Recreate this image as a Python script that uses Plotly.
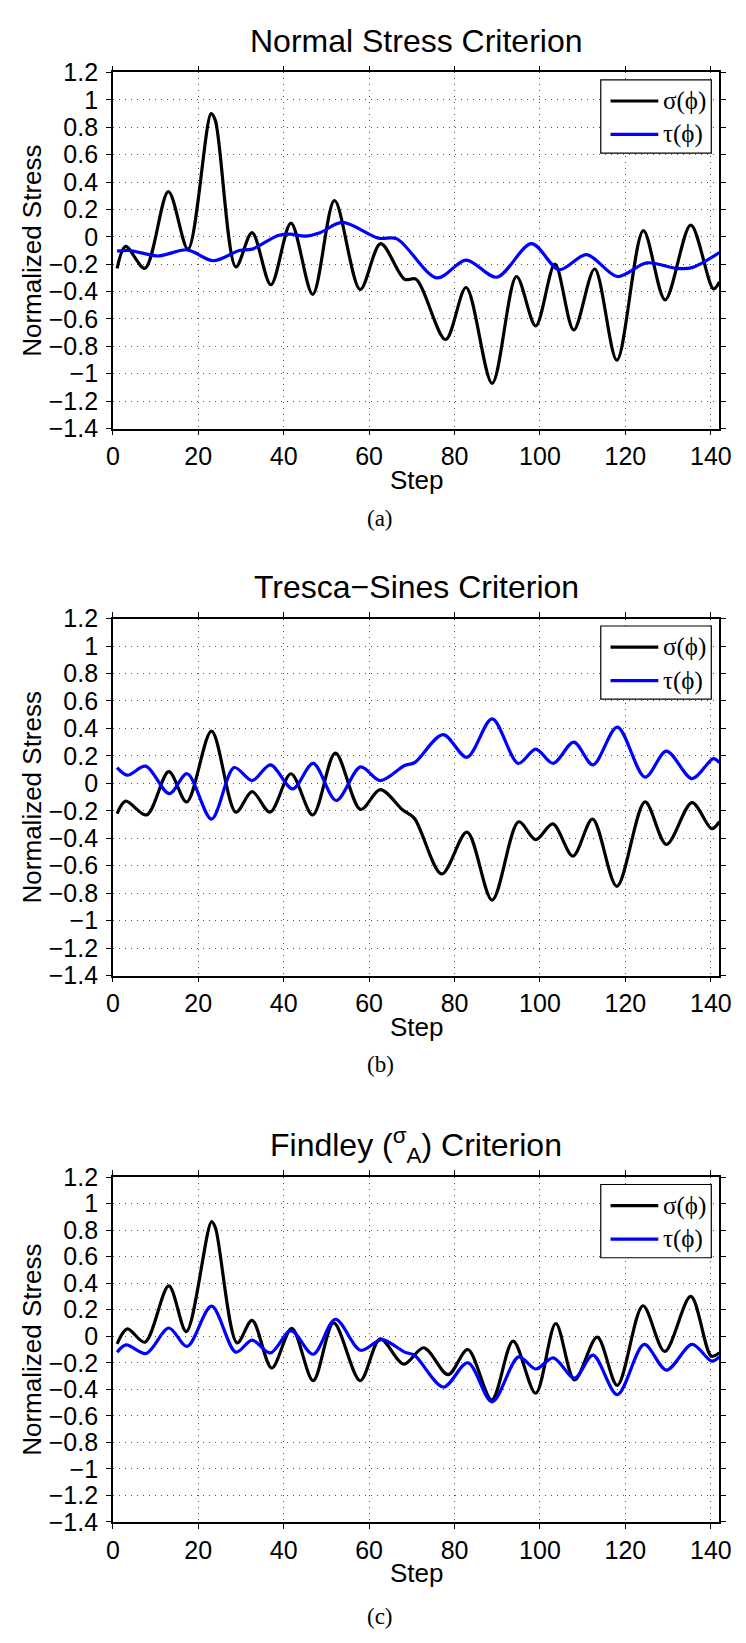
import plotly.graph_objects as go

# ---------------------------------------------------------------- data
# (a) Normal Stress Criterion
steps_a_sigma = [1, 3, 7.5, 13, 17.6, 23, 24, 28.8, 32.6, 37, 41.7, 46.8, 51.9, 57.9, 62.7,
                 68.3, 71, 77.9, 82.7, 88.8, 94.5, 99, 103.5, 107.9, 112.8, 118, 124.2,
                 129.3, 135.3, 140.6, 142]
sigma_a = [-0.23, -0.07, -0.23, 0.33, -0.09, 0.90, 0.85, -0.22, 0.03, -0.35, 0.10, -0.42,
           0.265, -0.385, -0.05, -0.31, -0.31, -0.75, -0.37, -1.07, -0.29, -0.65, -0.20,
           -0.68, -0.235, -0.90, 0.045, -0.46, 0.086, -0.38, -0.33]
steps_a_tau = [1, 4, 10.6, 17.4, 23.5, 29.6, 32.6, 38.7, 41.5, 45, 48.5, 53.7, 62.2, 66.5,
               75.9, 82.7, 89.9, 98, 104.5, 110.9, 118.1, 125, 131.8, 135.6, 142]
tau_a = [-0.105, -0.10, -0.14, -0.095, -0.175, -0.10, -0.09, 0.01, 0.02, 0.005, 0.03, 0.105,
         -0.01, -0.015, -0.30, -0.17, -0.295, -0.05, -0.24, -0.13, -0.29, -0.19, -0.23,
         -0.225, -0.115]

# (b) Tresca-Sines Criterion
steps_b_sigma = [1, 3, 7.9, 13.1, 17.3, 23.1, 28.8, 32.6, 36.8, 41.7, 46.8, 52.1, 58, 62.6,
                 67.9, 70.6, 77, 82.9, 88.8, 95, 99, 103, 107.7, 112.3, 118, 124.6, 129.6,
                 135.6, 140.2, 142]
sigma_b = [-0.22, -0.13, -0.23, 0.085, -0.135, 0.38, -0.21, -0.06, -0.21, 0.07, -0.23, 0.22,
           -0.19, -0.045, -0.195, -0.255, -0.66, -0.355, -0.85, -0.28, -0.41, -0.295, -0.53,
           -0.26, -0.75, -0.135, -0.445, -0.14, -0.33, -0.28]
steps_b_tau = [1, 3.4, 7.7, 13.2, 17.4, 23.1, 28.4, 32.6, 36.9, 42.1, 46.9, 52.3, 58, 62.6,
               68.3, 70.6, 77.3, 82.9, 88.8, 94.9, 99, 103.1, 107.9, 112.4, 118.1, 124.6,
               129.6, 135.6, 140.6, 142]
tau_b = [0.115, 0.06, 0.125, -0.075, 0.07, -0.26, 0.115, 0.02, 0.135, -0.04, 0.145, -0.125,
         0.12, 0.02, 0.13, 0.15, 0.355, 0.19, 0.47, 0.145, 0.25, 0.145, 0.30, 0.135, 0.41,
         0.045, 0.235, 0.035, 0.18, 0.15]

# (c) Findley Criterion
steps_c_sigma = [1, 3.4, 7.5, 13.1, 17.2, 23.1, 24, 29.1, 32.6, 37.2, 41.9, 46.9, 51.7, 57.9,
                 62.6, 68.1, 72.8, 78.5, 83.1, 88.7, 93.7, 99, 103.7, 108.1, 113.4, 118.1,
                 124.1, 129.2, 135.3, 140.1, 142]
sigma_c = [-0.057, 0.055, -0.045, 0.38, 0.035, 0.865, 0.82, -0.05, 0.12, -0.24, 0.06, -0.335,
           0.10, -0.335, -0.02, -0.21, -0.087, -0.29, -0.10, -0.48, -0.037, -0.43, 0.096,
           -0.33, -0.007, -0.37, 0.23, -0.114, 0.30, -0.15, -0.125]
steps_c_tau = [1, 3.1, 7.8, 13.1, 17.4, 23.1, 28.8, 32.6, 36.9, 41.7, 46.9, 52.1, 58, 63,
               68.3, 70.6, 77.4, 83.1, 88.8, 95, 99, 103.1, 108.1, 112.4, 118.1, 124.4, 129.6,
               135.6, 140.2, 142]
tau_c = [-0.12, -0.065, -0.13, 0.062, -0.077, 0.227, -0.12, -0.03, -0.126, 0.042, -0.136,
         0.128, -0.106, -0.025, -0.12, -0.143, -0.383, -0.20, -0.495, -0.156, -0.247, -0.163,
         -0.316, -0.143, -0.44, -0.062, -0.255, -0.062, -0.188, -0.156]

titles = ["Normal Stress Criterion",
          "Tresca\u2212Sines Criterion",
          "Findley (<sup>\u03c3</sup><sub>A</sub>) Criterion"]
captions = ["(a)", "(b)", "(c)"]
legend_labels = ["\u03c3(\u03d5)", "\u03c4(\u03d5)"]
x_ticks = [0, 20, 40, 60, 80, 100, 120, 140]
y_label = "Normalized Stress"
x_label = "Step"

# ---------------------------------------------------------------- layout geometry (pixels)
W, H = 746, 1643
LEFT, RIGHT = 108.6, 731.0
TOPS = [59.5, 615.1, 1183.3]
BOTTOMS = [421.7, 978.2, 1534.0]
TITLE_Y = [27, 583, 1151]
CAPTION_Y = [513, 1069, 1630]


def px(x):
    return x / W


def py(y):
    return 1 - y / H


SANS = "Liberation Sans, Arial, Helvetica, sans-serif"
SERIF = "Liberation Serif, DejaVu Serif, serif"
BLUE = "#0000ff"

panels = [
    (steps_a_sigma, sigma_a, steps_a_tau, tau_a),
    (steps_b_sigma, sigma_b, steps_b_tau, tau_b),
    (steps_c_sigma, sigma_c, steps_c_tau, tau_c),
]

fig = go.Figure()
annotations = []
shapes = []

for i, (xs, ys, xt, yt) in enumerate(panels):
    n = "" if i == 0 else str(i + 1)
    xref, yref = "x" + n, "y" + n
    fig.add_trace(go.Scatter(x=xs, y=ys, mode="lines", xaxis=xref, yaxis=yref,
                             line=dict(color="black", width=3.2, shape="spline", smoothing=0.9),
                             showlegend=False))
    fig.add_trace(go.Scatter(x=xt, y=yt, mode="lines", xaxis=xref, yaxis=yref,
                             line=dict(color=BLUE, width=3.2, shape="spline", smoothing=0.9),
                             showlegend=False))

    top, bot = TOPS[i], BOTTOMS[i]
    common = dict(showline=True, linecolor="black", linewidth=1.5, mirror="ticks",
                  ticks="outside", ticklen=5, tickwidth=1, tickcolor="black",
                  showgrid=True, gridcolor="#555555", griddash="1px,5px", gridwidth=1,
                  zeroline=False,
                  tickfont=dict(family=SANS, size=25, color="black"))
    fig.layout["xaxis" + n] = dict(common, domain=[px(LEFT), px(RIGHT)], range=[0, 142],
                                   tickvals=x_ticks, anchor=yref)
    fig.layout["yaxis" + n] = dict(common, domain=[py(bot), py(top)], range=[-1.4, 1.2],
                                   tick0=0, dtick=0.2, anchor=xref, ticklabelstandoff=3)

    cx = (LEFT + RIGHT) / 2
    annotations.append(dict(text=titles[i], x=px(cx), y=py(TITLE_Y[i]), xref="paper",
                            yref="paper", xanchor="center", yanchor="middle", showarrow=False,
                            font=dict(family=SANS, size=32, color="black")))
    annotations.append(dict(text=x_label, x=px(421), y=py(bot + 52), xref="paper",
                            yref="paper", xanchor="center", yanchor="middle", showarrow=False,
                            font=dict(family=SANS, size=26, color="black")))
    annotations.append(dict(text=y_label, x=px(26), y=py((top + bot) / 2), xref="paper",
                            yref="paper", xanchor="center", yanchor="middle", showarrow=False,
                            textangle=-90,
                            font=dict(family=SANS, size=26, color="black")))
    annotations.append(dict(text=captions[i], x=px(383), y=py(CAPTION_Y[i]), xref="paper",
                            yref="paper", xanchor="center", yanchor="middle", showarrow=False,
                            font=dict(family=SERIF, size=23, color="black")))

    # legend box with two line samples
    shapes.append(dict(type="rect", xref="paper", yref="paper",
                       x0=px(609.3), x1=px(722.7), y0=py(top + 82), y1=py(top + 7.5),
                       line=dict(color="black", width=1.2), fillcolor="white", layer="above"))
    for k, (col, dy) in enumerate([("black", 29), (BLUE, 63)]):
        shapes.append(dict(type="line", xref="paper", yref="paper",
                           x0=px(619.3), x1=px(668.3), y0=py(top + dy), y1=py(top + dy),
                           line=dict(color=col, width=3.2), layer="above"))
        annotations.append(dict(text=legend_labels[k], x=px(671), y=py(top + dy),
                                xref="paper", yref="paper", xanchor="left", yanchor="middle",
                                showarrow=False,
                                font=dict(family=SERIF, size=25, color="black")))

fig.update_layout(width=W, height=H, margin=dict(l=0, r=0, t=0, b=0),
                  paper_bgcolor="white", plot_bgcolor="white",
                  annotations=annotations, shapes=shapes, showlegend=False)

fig.write_html("out.html")
